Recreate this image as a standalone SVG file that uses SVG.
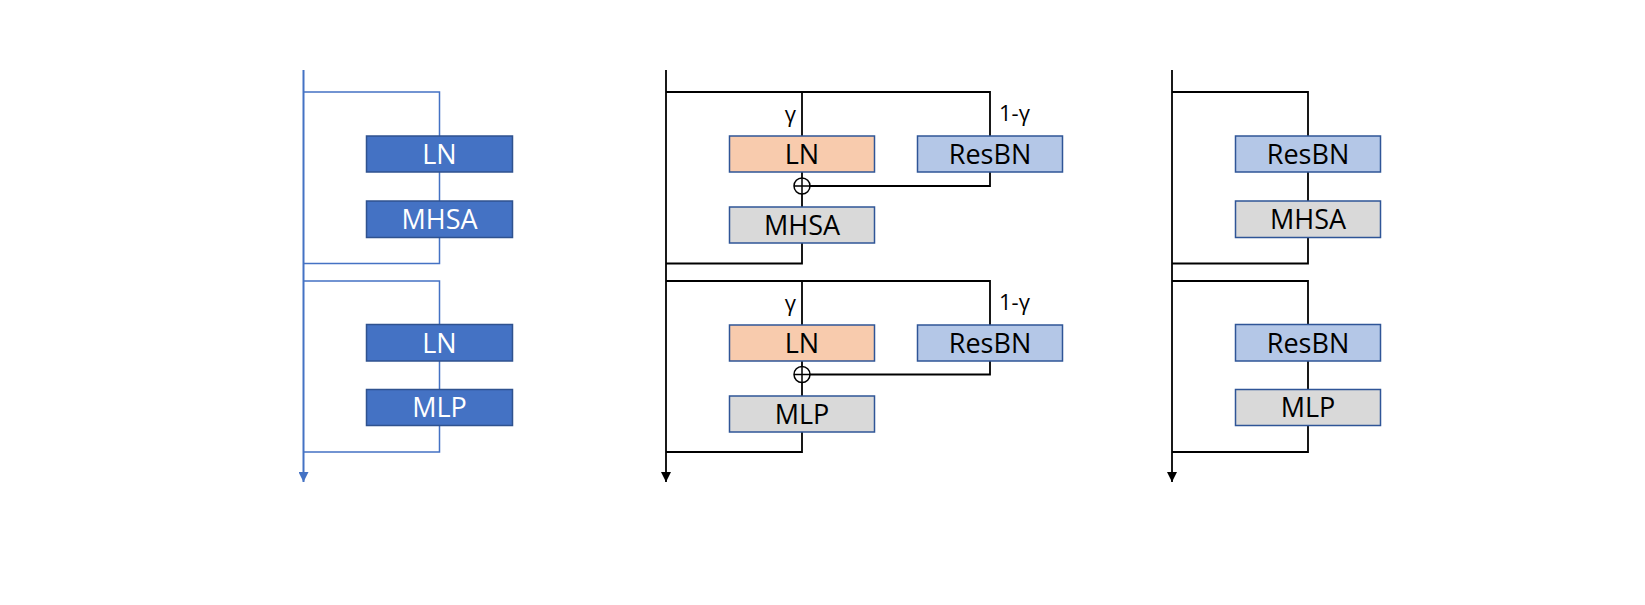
<svg xmlns="http://www.w3.org/2000/svg" width="1645" height="605" viewBox="0 0 1645 605">
<defs>
<style>
.t{font-family:"Open Sans","Noto Sans","Liberation Sans",sans-serif;font-size:27px;text-anchor:middle}
.w{fill:#FFFFFF}
.k{fill:#000000}
.g{font-family:"Open Sans","Noto Sans","Liberation Sans",sans-serif;font-size:22px;fill:#000000}
.bl{fill:#4472C4;stroke:#2F528F;stroke-width:1.5}
.ln{fill:#F8CBAD;stroke:#2F5597;stroke-width:1.5}
.rb{fill:#B4C7E7;stroke:#2F5597;stroke-width:1.5}
.gr{fill:#D9D9D9;stroke:#2F5597;stroke-width:1.5}
.cb{fill:none;stroke:#4472C4;stroke-width:1.5}
.ck{fill:none;stroke:#000000;stroke-width:1.8}
</style>
<marker id="ab" markerWidth="10" markerHeight="10" refX="5" refY="10" orient="0" markerUnits="userSpaceOnUse" viewBox="0 0 10 10"><path d="M0,0 L10,0 L5,10 Z" fill="#4472C4"/></marker>
<marker id="ak" markerWidth="10" markerHeight="10" refX="5" refY="10" orient="0" markerUnits="userSpaceOnUse" viewBox="0 0 10 10"><path d="M0,0 L10,0 L5,10 Z" fill="#000000"/></marker>
</defs>
<rect width="1645" height="605" fill="#FFFFFF"/>
<g id="connectors">
<line x1="303.5" y1="70" x2="303.5" y2="482" class="cb" style="stroke-width:2" marker-end="url(#ab)"/>
<polyline points="303.5,92 439.5,92 439.5,263.5 303.5,263.5" class="cb"/>
<polyline points="303.5,281 439.5,281 439.5,452 303.5,452" class="cb"/>
<line x1="666" y1="70" x2="666" y2="482" class="ck" marker-end="url(#ak)"/>
<polyline points="666,92 990,92 990,136" class="ck"/>
<line x1="802" y1="92" x2="802" y2="136" class="ck"/>
<line x1="802" y1="172" x2="802" y2="207" class="ck"/>
<polyline points="990,172 990,186 810,186" class="ck"/>
<polyline points="802,243 802,263.5 666,263.5" class="ck"/>
<polyline points="666,281 990,281 990,325" class="ck"/>
<line x1="802" y1="281" x2="802" y2="325" class="ck"/>
<line x1="802" y1="361" x2="802" y2="396" class="ck"/>
<polyline points="990,361 990,374.5 810,374.5" class="ck"/>
<polyline points="802,432 802,452 666,452" class="ck"/>
<line x1="1172" y1="70" x2="1172" y2="482" class="ck" marker-end="url(#ak)"/>
<polyline points="1172,92 1308,92 1308,263.5 1172,263.5" class="ck"/>
<polyline points="1172,281 1308,281 1308,452 1172,452" class="ck"/>
</g>
<g id="p1-ln"><rect x="366.5" y="136" width="146" height="36" class="bl"/><text x="439.5" y="163.5" class="t w">LN</text></g>
<g id="p1-mhsa"><rect x="366.5" y="201" width="146" height="36.5" class="bl"/><text x="439.5" y="229" class="t w">MHSA</text></g>
<g id="p1-ln2"><rect x="366.5" y="324.5" width="146" height="36.5" class="bl"/><text x="439.5" y="352.5" class="t w">LN</text></g>
<g id="p1-mlp"><rect x="366.5" y="389.5" width="146" height="36" class="bl"/><text x="439.5" y="417" class="t w">MLP</text></g>

<g id="p2-ln"><rect x="729.5" y="136" width="145" height="36" class="ln"/><text x="802" y="163.5" class="t k">LN</text></g>
<g id="p2-resbn"><rect x="917.5" y="136" width="145" height="36" class="rb"/><text x="990" y="163.5" class="t k">ResBN</text></g>
<g id="p2-add"><circle cx="802" cy="186" r="8" fill="#FFFFFF" stroke="#000" stroke-width="1.5"/><path d="M794,186 H810 M802,178 V194" stroke="#000" stroke-width="1.5"/></g>
<g id="p2-mhsa"><rect x="729.5" y="207" width="145" height="36" class="gr"/><text x="802" y="234.5" class="t k">MHSA</text></g>
<g id="p2-ln2"><rect x="729.5" y="325" width="145" height="36" class="ln"/><text x="802" y="352.5" class="t k">LN</text></g>
<g id="p2-resbn2"><rect x="917.5" y="325" width="145" height="36" class="rb"/><text x="990" y="352.5" class="t k">ResBN</text></g>
<g id="p2-add2"><circle cx="802" cy="374.5" r="8" fill="#FFFFFF" stroke="#000" stroke-width="1.5"/><path d="M794,374.5 H810 M802,366.5 V382.5" stroke="#000" stroke-width="1.5"/></g>
<g id="p2-mlp"><rect x="729.5" y="396" width="145" height="36" class="gr"/><text x="802" y="423.5" class="t k">MLP</text></g>
<g id="labels">
<text x="796" y="122" class="g" text-anchor="end">γ</text>
<text x="999" y="121" class="g">1-γ</text>
<text x="796" y="311" class="g" text-anchor="end">γ</text>
<text x="999" y="310" class="g">1-γ</text>
</g>
<g id="p3-resbn"><rect x="1235.5" y="136" width="145" height="36" class="rb"/><text x="1308" y="163.5" class="t k">ResBN</text></g>
<g id="p3-mhsa"><rect x="1235.5" y="201" width="145" height="36.5" class="gr"/><text x="1308" y="229" class="t k">MHSA</text></g>
<g id="p3-resbn2"><rect x="1235.5" y="324.5" width="145" height="36.5" class="rb"/><text x="1308" y="352.5" class="t k">ResBN</text></g>
<g id="p3-mlp"><rect x="1235.5" y="389.5" width="145" height="36" class="gr"/><text x="1308" y="417" class="t k">MLP</text></g>
</svg>
